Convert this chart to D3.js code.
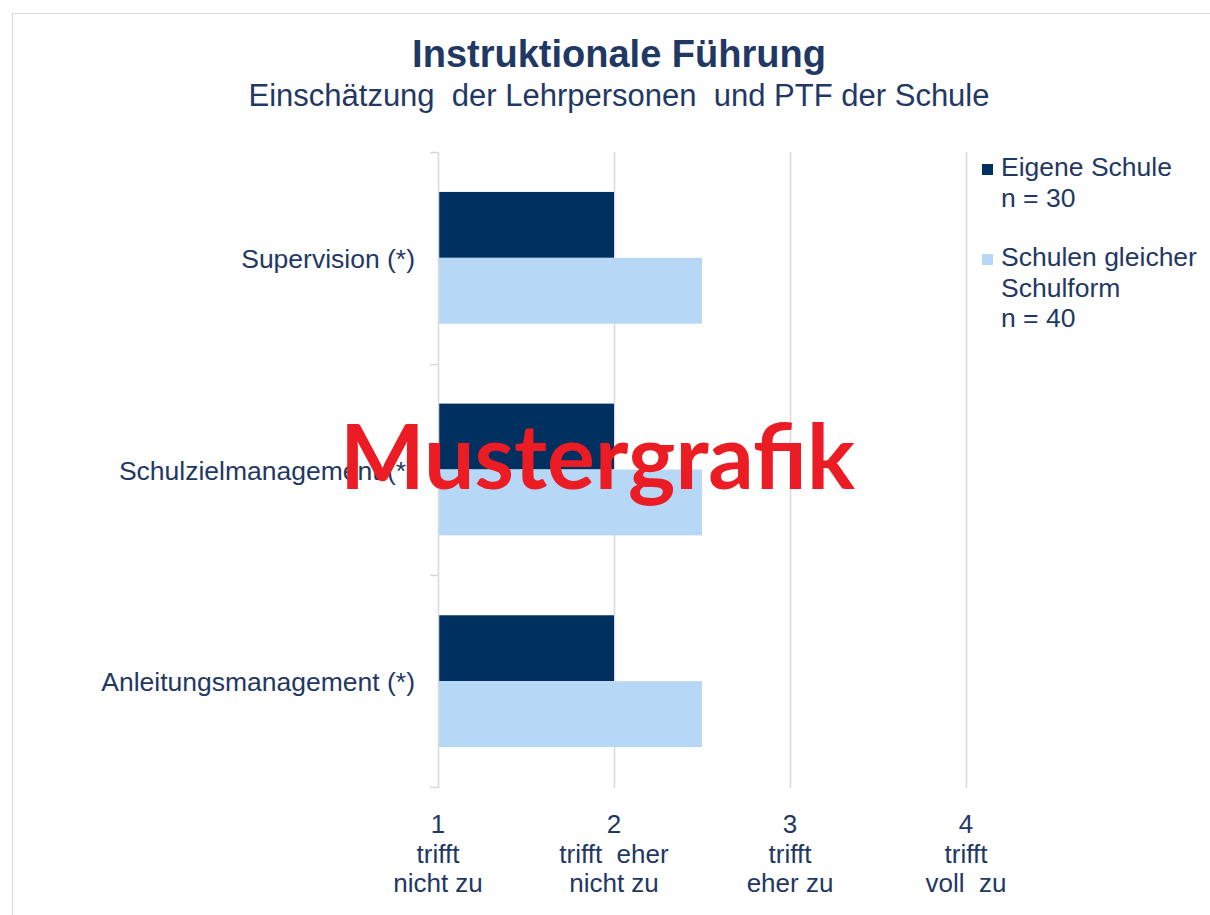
<!DOCTYPE html>
<html>
<head>
<meta charset="utf-8">
<script src="https://cdn.jsdelivr.net/npm/d3@7"></script>
<style>
  body { margin: 0; background: #fff; }
  text { font-family: "Liberation Sans", Arial, sans-serif; fill: #1f3864; }
</style>
</head>
<body>
<svg id="chart" width="1210" height="915"></svg>
<script>
const categories = ["Supervision (*)", "Schulzielmanagement (*)", "Anleitungsmanagement (*)"];
const seriesNames = ["Eigene Schule", "Schulen gleicher Schulform"];
const eigeneSchule = [2.0, 2.0, 2.0];
const gleicheSchulform = [2.5, 2.5, 2.5];
const legendLines = [["Eigene Schule", "n = 30"], ["Schulen gleicher", "Schulform", "n = 40"]];
const xTicks = [1, 2, 3, 4];
const xTickLabels = [["trifft", "nicht zu"], ["trifft  eher", "nicht zu"], ["trifft", "eher zu"], ["trifft", "voll  zu"]];
const colors = ["#00305f", "#b7d7f7"];

const svg = d3.select("#chart");
const margin = {left: 438, right: 244, top: 152, bottom: 128};
const W = 1210, H = 915;

// frame
svg.append("rect")
    .attr("x", 12.5).attr("y", 13.5)
    .attr("width", 1210).attr("height", 915)
    .attr("fill", "none").attr("stroke", "#d9d9d9");

const x = d3.scaleLinear().domain([1, 4]).range([margin.left, W - margin.right]);
const y0 = d3.scaleBand().domain(categories).range([margin.top, H - margin.bottom]).paddingInner(0);
const y1 = d3.scaleBand().domain(seriesNames).range([0, y0.bandwidth()]).paddingInner(0).paddingOuter(0.606);

// title
svg.append("text")
    .attr("x", 619).attr("y", 67)
    .attr("text-anchor", "middle")
    .style("font-size", "38px").style("font-weight", "bold")
    .text("Instruktionale Führung");
svg.append("text")
    .attr("x", 619).attr("y", 106)
    .attr("text-anchor", "middle")
    .style("font-size", "31px")
    .style("white-space", "pre")
    .text("Einschätzung  der Lehrpersonen  und PTF der Schule");

// gridlines
svg.append("g").selectAll("line")
    .data(xTicks.slice(1))
    .enter().append("line")
    .attr("x1", d => Math.round(x(d)) + 0.5).attr("x2", d => Math.round(x(d)) + 0.5)
    .attr("y1", margin.top).attr("y2", H - margin.bottom + 1)
    .attr("stroke", "#d9d9d9").attr("stroke-width", 1.5);

// bars
const rows = categories.map((c, i) => ({cat: c, vals: [eigeneSchule[i], gleicheSchulform[i]]}));
const groups = svg.append("g").selectAll("g")
    .data(rows)
    .enter().append("g")
    .attr("transform", d => `translate(0,${y0(d.cat)})`);
groups.selectAll("rect")
    .data(d => d.vals.map((v, j) => ({name: seriesNames[j], v: v, j: j})))
    .enter().append("rect")
    .attr("x", x(1))
    .attr("y", d => y1(d.name))
    .attr("width", d => x(d.v) - x(1))
    .attr("height", y1.bandwidth())
    .attr("fill", d => colors[d.j]);

// y axis: line + boundary ticks
const yAxis = svg.append("g");
yAxis.append("line")
    .attr("x1", x(1) + 0.5).attr("x2", x(1) + 0.5)
    .attr("y1", margin.top).attr("y2", H - margin.bottom + 1)
    .attr("stroke", "#d9d9d9").attr("stroke-width", 1.5);
const bounds = categories.map(c => y0(c)).concat([y0.range()[1]]);
yAxis.selectAll("line.tk")
    .data(bounds)
    .enter().append("line").attr("class", "tk")
    .attr("x1", x(1) - 8).attr("x2", x(1))
    .attr("y1", d => Math.round(d) + 0.5).attr("y2", d => Math.round(d) + 0.5)
    .attr("stroke", "#d9d9d9").attr("stroke-width", 1.5);
yAxis.selectAll("text")
    .data(categories)
    .enter().append("text")
    .attr("x", x(1) - 23)
    .attr("y", d => y0(d) + y0.bandwidth() / 2 + 10)
    .attr("text-anchor", "end")
    .style("font-size", "26.5px")
    .text(d => d);

// x tick labels
const xLab = svg.append("g").selectAll("text")
    .data(xTicks)
    .enter().append("text")
    .attr("x", d => x(d))
    .attr("y", 833)
    .attr("text-anchor", "middle")
    .style("font-size", "26px")
    .style("white-space", "pre");
xLab.append("tspan").attr("x", d => x(d)).text(d => d);
xLab.each(function (d, i) {
    xTickLabels[i].forEach((s, k) => {
        d3.select(this).append("tspan").attr("x", x(d)).attr("dy", 29.5).text(s);
    });
});

// legend
const legY = [163, 253];
const leg = svg.append("g").selectAll("g")
    .data(legendLines)
    .enter().append("g")
    .attr("transform", (d, i) => `translate(982,${legY[i]})`);
leg.append("rect")
    .attr("width", 11).attr("height", 11).attr("y", 1)
    .attr("fill", (d, i) => colors[i]);
leg.each(function (d) {
    const t = d3.select(this).append("text").attr("x", 19).attr("y", 13).style("font-size", "26.5px");
    d.forEach((s, k) => t.append("tspan").attr("x", 19).attr("dy", k === 0 ? 0 : 30.5).text(s));
});

// watermark
svg.append("text")
    .attr("x", 340).attr("y", 489)
    .attr("textLength", 515).attr("lengthAdjust", "spacingAndGlyphs")
    .style("font-family", "Lato, 'Open Sans', sans-serif")
    .style("font-weight", "bold")
    .style("font-size", "90px")
    .style("fill", "#ec1c24")
    .text("Mustergrafik");
</script>
</body>
</html>
